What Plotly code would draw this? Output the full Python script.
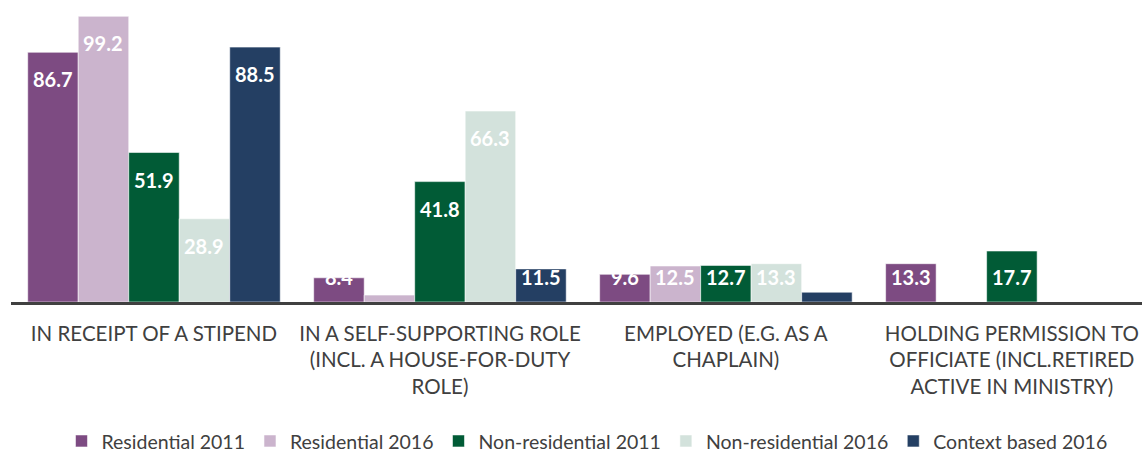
import plotly.graph_objects as go

# Survey categories (wrapped for the axis)
categories = [
    "IN RECEIPT OF A STIPEND",
    "IN A SELF-SUPPORTING ROLE<br>(INCL. A HOUSE-FOR-DUTY<br>ROLE)",
    "EMPLOYED (E.G. AS A<br>CHAPLAIN)",
    "HOLDING PERMISSION TO<br>OFFICIATE (INCL.RETIRED<br>ACTIVE IN MINISTRY)",
]

series_names = [
    "Residential 2011",
    "Residential 2016",
    "Non-residential 2011",
    "Non-residential 2016",
    "Context based 2016",
]

residential_2011 = [86.7, 8.4, 9.6, 13.3]
residential_2016 = [99.2, 2.4, 12.5, None]
non_residential_2011 = [51.9, 41.8, 12.7, 17.7]
non_residential_2016 = [28.9, 66.3, 13.3, None]
context_based_2016 = [88.5, 11.5, 3.4, None]

series_values = [
    residential_2011,
    residential_2016,
    non_residential_2011,
    non_residential_2016,
    context_based_2016,
]

colors = ["#7D4B82", "#CBB4CD", "#015B36", "#D3E2DC", "#243F63"]

W, H = 1142, 454
margin = dict(l=11, r=0, t=14, b=152)
bargap = 0.117
y_max = 100
plot_h = H - margin["t"] - margin["b"]
px_per_unit = plot_h / y_max

fig = go.Figure()
x_idx = list(range(len(categories)))
for name, vals, col in zip(series_names, series_values, colors):
    fig.add_trace(go.Bar(
        x=x_idx,
        y=vals,
        name=name,
        marker=dict(color=col, line=dict(color="rgba(255,255,255,0.55)", width=1)),
        hoverinfo="skip",
    ))

# Value labels sit near the top of each bar; short bars keep the label
# resting just above the baseline instead.
n = len(series_values)
bw = (1 - bargap) / n
annotations = []
for i, vals in enumerate(series_values):
    for j, v in enumerate(vals):
        if v is None or v < 5:
            continue
        x = j + (i - (n - 1) / 2) * bw
        if v * px_per_unit >= 52:
            y, shift = v, -27
        else:
            y, shift = 0, 25
        annotations.append(dict(
            x=x, y=y, xref="x", yref="y", yshift=shift,
            text=f"{v:.1f}", showarrow=False,
            xanchor="center", yanchor="middle",
            font=dict(family="Lato", size=20, color="white", weight="bold"),
        ))

fig.update_layout(
    width=W, height=H,
    margin=margin,
    barmode="group",
    bargap=bargap,
    bargroupgap=0,
    plot_bgcolor="white",
    paper_bgcolor="white",
    annotations=annotations,
    legend=dict(
        orientation="h",
        xref="container", x=0.514, xanchor="center",
        yref="container", y=0.028, yanchor="middle",
        font=dict(family="Lato", size=19.5, color="#404040"),
        itemwidth=30,
        traceorder="normal",
    ),
    xaxis=dict(
        range=[-0.5, 3.455],
        tickmode="array",
        tickvals=x_idx,
        ticktext=categories,
        showline=True, linecolor="#404040", linewidth=3,
        showgrid=False, ticks="",
        ticklabelstandoff=11,
        ticklabeloverflow="allow",
        tickfont=dict(family="Lato", size=20.5, color="#404040"),
        fixedrange=True,
    ),
    yaxis=dict(range=[0, y_max], visible=False, showgrid=False, fixedrange=True),
)

fig.write_html("out.html", config={"displayModeBar": False})
